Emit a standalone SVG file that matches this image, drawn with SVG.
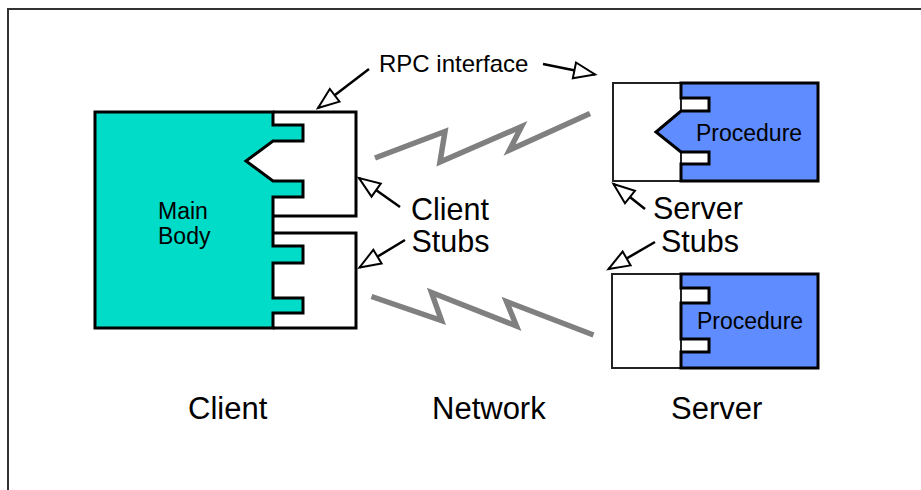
<svg xmlns="http://www.w3.org/2000/svg" width="921" height="490" viewBox="0 0 921 490">
<style>
  text { font-family: "Liberation Sans", Arial, sans-serif; fill: #000; }
  .teal { fill: #00DCC8; stroke: #000; stroke-width: 3; stroke-linejoin: miter; }
  .blue { fill: #5F8CFF; stroke: #000; stroke-width: 3; stroke-linejoin: miter; }
  .white { fill: #fff; stroke: #000; stroke-width: 3; stroke-linejoin: miter; }
  .whitethin { fill: #fff; stroke: #222; stroke-width: 2; }
  .bolt { fill: none; stroke: #808080; stroke-width: 5.5; stroke-linejoin: miter; stroke-miterlimit: 10; }
  .arrow { fill: none; stroke: #000; stroke-width: 2.5; marker-end: url(#hollow); }
  .big { font-size: 31px; }
  .stub { font-size: 30.5px; }
  .mid { font-size: 23px; }
</style>
<defs>
  <marker id="hollow" markerUnits="userSpaceOnUse" markerWidth="30" markerHeight="20" refX="0" refY="0" orient="auto" overflow="visible">
    <path d="M-21,-8 L0,0 L-21,8 Z" fill="#fff" stroke="#000" stroke-width="2" stroke-linejoin="miter"/>
  </marker>
</defs>

<rect x="8" y="9" width="940" height="520" fill="#fff" stroke="#333" stroke-width="2"/>

<g id="client">
  <path class="white" d="M273,112 H356 V216 H273"/>
  <path class="white" d="M273,233 H356 V328 H273"/>
  <polygon class="teal" points="95,112 273,112 273,125 303,125 303,141 273,141 246,161 273,181 303,181 303,197 273,197 273,246 303,246 303,263 273,263 273,298 303,298 303,313 273,313 273,328 95,328"/>
  <text class="mid" x="158" y="219">Main</text>
  <text class="mid" x="158" y="244">Body</text>
</g>

<g id="server1">
  <path class="whitethin" d="M681,83 H613 V181 H681 Z"/>
  <polygon class="blue" points="681,83 818,83 818,181 681,181 681,164 709,164 709,152 681,152 656,132 681,111 709,111 709,98 681,98"/>
  <text class="mid" x="696" y="141">Procedure</text>
</g>

<g id="server2">
  <path class="whitethin" d="M681,274 H612 V368 H681 Z"/>
  <polygon class="blue" points="681,274 818,274 818,368 681,368 681,352 709,352 709,339 681,339 681,303 709,303 709,288 681,288"/>
  <text class="mid" x="697" y="329">Procedure</text>
</g>

<g id="labels">
  <text x="379" y="72" font-size="24">RPC interface</text>
  <text class="stub" x="411" y="220">Client</text>
  <text class="stub" x="411.5" y="252">Stubs</text>
  <text class="stub" x="653" y="219">Server</text>
  <text class="stub" x="661" y="252">Stubs</text>
  <text class="big" x="188" y="419">Client</text>
  <text class="big" x="432" y="419">Network</text>
  <text class="big" x="671" y="419">Server</text>
</g>

<g id="connectors">
  <polyline class="bolt" points="375,158 445,131.5 440,162 521.5,126.5 509.5,150 590,113.5"/>
  <polyline class="bolt" points="371.5,296.5 441.5,320.5 431.5,292.5 516.5,326 506.5,301.5 593.5,335"/>
  <path class="arrow" d="M369,69 L318,108"/>
  <path class="arrow" d="M543,64 L595,74.5"/>
  <path class="arrow" d="M400,207 L359,178"/>
  <path class="arrow" d="M405,240 L359.5,267.5"/>
  <path class="arrow" d="M645,209 L613.5,184"/>
  <path class="arrow" d="M655,242 L608.5,269"/>
</g>
</svg>
